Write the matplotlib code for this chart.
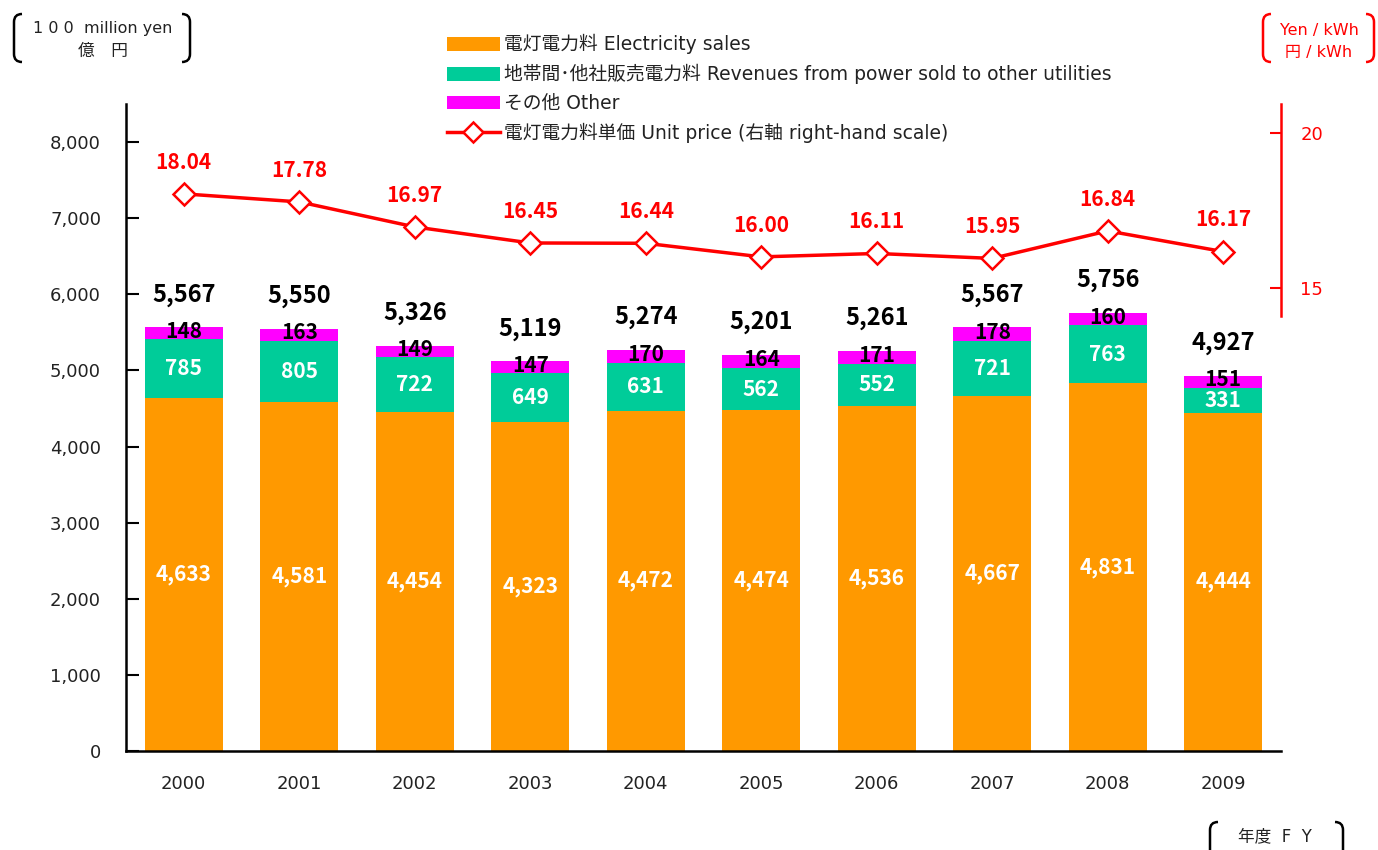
import matplotlib
matplotlib.use("Agg")
import matplotlib.pyplot as plt
from matplotlib.patches import PathPatch, Patch
from matplotlib.lines import Line2D
from matplotlib.path import Path

plt.rcParams['font.family'] = ['Noto Sans CJK JP', 'DejaVu Sans']
LATIN = ['DejaVu Sans', 'Noto Sans CJK JP']
NUM = ['Noto Sans CJK JP', 'DejaVu Sans']

years = ["2000", "2001", "2002", "2003", "2004", "2005", "2006", "2007", "2008", "2009"]
electricity = [4633, 4581, 4454, 4323, 4472, 4474, 4536, 4667, 4831, 4444]
other_util = [785, 805, 722, 649, 631, 562, 552, 721, 763, 331]
other = [148, 163, 149, 147, 170, 164, 171, 178, 160, 151]
totals = [5567, 5550, 5326, 5119, 5274, 5201, 5261, 5567, 5756, 4927]
unit_price = [18.04, 17.78, 16.97, 16.45, 16.44, 16.00, 16.11, 15.95, 16.84, 16.17]

left_ticks = [0, 1000, 2000, 3000, 4000, 5000, 6000, 7000, 8000]
right_ticks = [15, 20]

ORANGE = "#FF9900"
GREEN = "#00CC99"
MAGENTA = "#FF00FF"
RED = "#FF0000"

W, H = 1378, 850
fig = plt.figure(figsize=(W / 100, H / 100), dpi=100)
ax = fig.add_axes([126 / W, (H - 751) / H, 1155 / W, 647 / H])
ax2 = ax.twinx()

x = list(range(len(years)))
bw = 0.675
ax.bar(x, electricity, bw, color=ORANGE, zorder=2)
ax.bar(x, other_util, bw, bottom=electricity, color=GREEN, zorder=2)
bottom3 = [a + b for a, b in zip(electricity, other_util)]
ax.bar(x, other, bw, bottom=bottom3, color=MAGENTA, zorder=2)

for i in x:
    ax.text(i, electricity[i] / 2, f"{electricity[i]:,}", ha="center", va="center",
            color="white", fontsize=15, fontweight="bold", family=NUM, zorder=3)
    ax.text(i, electricity[i] + other_util[i] / 2, f"{other_util[i]:,}", ha="center", va="center",
            color="white", fontsize=15, fontweight="bold", family=NUM, zorder=3)
    ax.text(i, bottom3[i] + other[i] / 2 + 25, f"{other[i]:,}", ha="center", va="center",
            color="black", fontsize=15, fontweight="bold", family=NUM, zorder=3)
    ax.text(i, bottom3[i] + other[i] + 430, f"{totals[i]:,}", ha="center", va="center",
            color="black", fontsize=17, fontweight="bold", family=NUM, zorder=3)

ax.set_xlim(-0.5, 9.5)
ax.set_ylim(0, 8500)
ax.set_yticks(left_ticks)
ax.set_yticklabels([f"{v:,}" for v in left_ticks], fontsize=13, color="#222222", family=LATIN)
ax.set_xticks(x)
ax.set_xticklabels(years, fontsize=13, color="#222222", family=LATIN)
ax.tick_params(axis="x", length=0, pad=17)
ax.tick_params(axis="y", direction="in", length=9, width=1.5, pad=18)
ax.spines["top"].set_visible(False)
ax.spines["right"].set_visible(False)
ax.spines["left"].set_linewidth(1.8)
ax.spines["bottom"].set_linewidth(1.8)

RTOP = 20.95
ax2.plot(x, unit_price, color=RED, lw=2.5, marker="D", markersize=11,
         markerfacecolor="white", markeredgecolor=RED, markeredgewidth=1.8, zorder=4)
for i in x:
    ax2.text(i, unit_price[i] + 1.03, f"{unit_price[i]:.2f}", ha="center", va="center",
             color=RED, fontsize=15, fontweight="bold", family=NUM)
ax2.set_ylim(0, RTOP)
ax2.set_yticks(right_ticks)
ax2.set_yticklabels([str(v) for v in right_ticks], fontsize=13, color=RED, family=LATIN)
ax2.tick_params(axis="y", direction="in", length=8, width=1.5, color=RED, pad=14)
for s in ["top", "left", "bottom"]:
    ax2.spines[s].set_visible(False)
ax2.spines["right"].set_color(RED)
ax2.spines["right"].set_linewidth(1.8)
ax2.spines["right"].set_bounds(14.1, RTOP)
ax.set_zorder(1)
ax2.set_zorder(2)
ax2.patch.set_visible(False)

handles = [
    Patch(facecolor=ORANGE, edgecolor="none"),
    Patch(facecolor=GREEN, edgecolor="none"),
    Patch(facecolor=MAGENTA, edgecolor="none"),
    Line2D([0], [0], color=RED, lw=2.5, marker="D", markersize=10,
           markerfacecolor="white", markeredgecolor=RED, markeredgewidth=1.8),
]
labels = [
    "電灯電力料 Electricity sales",
    "地帯間･他社販売電力料 Revenues from power sold to other utilities",
    "その他 Other",
    "電灯電力料単価 Unit price (右軸 right-hand scale)",
]
leg = fig.legend(handles, labels, loc="upper left", bbox_to_anchor=(447 / W, 1 - 34 / H),
                 frameon=False, prop={'family': LATIN, 'size': 13.5},
                 handlelength=2.8, handleheight=0.75,
                 handletextpad=0.25, labelspacing=0.52, borderpad=0, borderaxespad=0)
for t in leg.get_texts():
    t.set_color("#222222")


def bracket(x0, y0, y1, side, color="black", w=8):
    def fx(px):
        return px / W

    def fy(py):
        return 1 - py / H
    d = w if side == "left" else -w
    verts = [(fx(x0 + d), fy(y0)), (fx(x0), fy(y0)), (fx(x0), fy(y0 + 8)),
             (fx(x0), fy(y1 - 8)), (fx(x0), fy(y1)), (fx(x0 + d), fy(y1))]
    codes = [Path.MOVETO, Path.CURVE3, Path.CURVE3, Path.LINETO, Path.CURVE3, Path.CURVE3]
    fig.add_artist(PathPatch(Path(verts, codes), fill=False, edgecolor=color, lw=1.8,
                             transform=fig.transFigure))


bracket(14, 14, 62, "left")
bracket(190, 14, 62, "right")
fig.text(103 / W, 1 - 29 / H, "1 0 0  million yen", ha="center", va="center", fontsize=11.5,
         color="#222222", family=LATIN)
fig.text(103 / W, 1 - 51 / H, "億　円", ha="center", va="center", fontsize=12, color="#222222")

bracket(1263, 14, 62, "left", RED)
bracket(1374, 14, 62, "right", RED)
fig.text(1319 / W, 1 - 30 / H, "Yen / kWh", ha="center", va="center", fontsize=11.5, color=RED,
         family=LATIN)
fig.text(1319 / W, 1 - 52 / H, "円 / kWh", ha="center", va="center", fontsize=11.5, color=RED,
         family=LATIN)

bracket(1210, 822, 870, "left")
bracket(1343, 822, 870, "right")
fig.text(1275 / W, 1 - 836 / H, "年度  F  Y", ha="center", va="center", fontsize=12, color="#222222",
         family=LATIN)

fig.savefig("out.png", dpi=100)
